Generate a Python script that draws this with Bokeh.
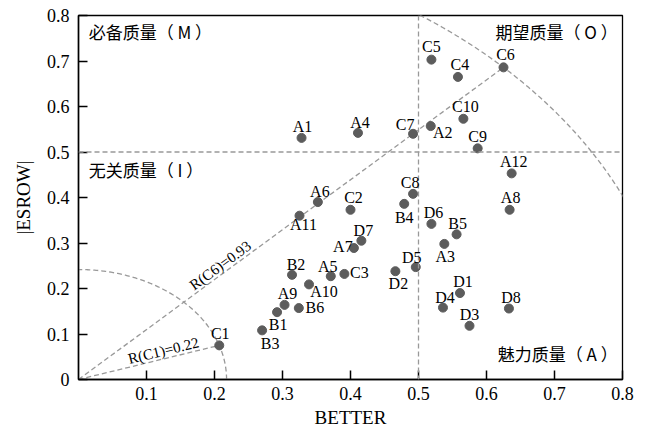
import math
import numpy as np
from bokeh.plotting import figure
from bokeh.models import (ColumnDataSource, LabelSet, Label, Span, Range1d,
                          FixedTicker, CustomJSTickFormatter)
from bokeh.core.properties import value
from bokeh.embed import file_html
from bokeh.resources import INLINE

# ---- data ----
labels = ["C1", "B3", "B1", "A9", "B6", "A10", "B2", "A5", "C3", "A7", "D7", "D2",
          "D5", "D6", "B5", "A3", "D1", "D4", "D3", "D8", "B4", "C8", "C2", "A6",
          "A11", "A1", "A4", "C7", "A2", "C10", "C9", "A12", "A8", "C5", "C4", "C6"]
better = [0.207, 0.270, 0.292, 0.303, 0.324, 0.339, 0.314, 0.371, 0.391, 0.405, 0.416, 0.466,
          0.496, 0.519, 0.556, 0.538, 0.561, 0.536, 0.575, 0.633, 0.479, 0.492, 0.400, 0.352,
          0.325, 0.328, 0.411, 0.492, 0.518, 0.566, 0.587, 0.637, 0.634, 0.519, 0.558, 0.625]
esrow = [0.075, 0.108, 0.148, 0.164, 0.157, 0.209, 0.230, 0.227, 0.232, 0.289, 0.305, 0.238,
         0.247, 0.342, 0.319, 0.298, 0.190, 0.158, 0.118, 0.156, 0.386, 0.408, 0.373, 0.390,
         0.360, 0.531, 0.542, 0.540, 0.557, 0.573, 0.508, 0.453, 0.373, 0.703, 0.665, 0.686]
x_ticks = [0.1, 0.2, 0.3, 0.4, 0.5, 0.6, 0.7, 0.8]
y_ticks = [0, 0.1, 0.2, 0.3, 0.4, 0.5, 0.6, 0.7, 0.8]
threshold = 0.5
radius_points = ["C6", "C1"]
radius_texts = ["R(C6)=0.93", "R(C1)=0.22"]
quadrants = ["必备质量（ M ）", "期望质量（ O ）", "无关质量（ I ）", "魅力质量（ A ）"]

# ---- label placement (screen px, page coords: +dy = down) ----
label_dx = [1, 8, 1, 3, 16, 15, 4, -3, 15, -11, 2, 3,
            -4, 2, 1, 1, 3, 2, 0, 2, 0, -3, 3, 2,
            4, 1, 2, -8, 12, 2, 0, 2, 1, 0, 2, 2]
label_dy = [-12, 13, 12, -11, -1, 7, -10, -10, -1, -2, -10, 12,
            -10, -11, -11, 13, -12, -10, -11, -11, 14, -11, -12, -11,
            9, -11, -10, -9, 6, -12, -12, -12, -12, -13, -12, -13]

W, H = 648, 434
ML, MR, MT, MB = 78, 26, 15, 55
FW, FH = W - ML - MR, H - MT - MB
sx, sy = FW / 0.8, FH / 0.8

GRAY = "#999999"
DOT = "#5c5c5c"
SERIF = "Liberation Serif"
CJK = "Noto Sans CJK SC"

p = figure(width=W, height=H, x_range=Range1d(0, 0.8), y_range=Range1d(0, 0.8),
           output_backend="svg", toolbar_location=None,
           min_border_left=ML, min_border_right=MR, min_border_top=MT, min_border_bottom=MB)
p.xgrid.visible = False
p.ygrid.visible = False
p.background_fill_color = "white"
p.border_fill_color = "white"
p.outline_line_color = "black"
p.outline_line_width = 1.3

# threshold lines
p.add_layout(Span(location=threshold, dimension="height", line_color=GRAY,
                  line_dash="5 3", line_width=1.3))
p.add_layout(Span(location=threshold, dimension="width", line_color=GRAY,
                  line_dash="5 3", line_width=1.3))

# rays and arcs (ellipse aspect used by the original drawing)
k = 1.11
theta = np.linspace(0, math.pi / 2, 200)
for name, txt, frac in zip(radius_points, radius_texts, [0.345, 0.617]):
    i = labels.index(name)
    px, py = better[i], esrow[i]
    p.line([0, px], [0, py], line_color=GRAY, line_dash="5 3", line_width=1.3)
    a = math.sqrt(px ** 2 + (py / k) ** 2)
    b = k * a
    p.line(a * np.cos(theta), b * np.sin(theta), line_color=GRAY, line_dash="5 3", line_width=1.3)
    ang = math.atan2(py * sy, px * sx)
    p.add_layout(Label(x=px * frac, y=py * frac, text=txt, angle=ang, angle_units="rad",
                       text_align="center", text_baseline="bottom",
                       text_font=SERIF, text_font_size="15px", text_color="black"))

src = ColumnDataSource(dict(x=better, y=esrow, label=labels,
                            dx=label_dx, dy=[-d for d in label_dy]))
p.scatter("x", "y", source=src, size=9, fill_color=DOT, line_color=DOT)
p.add_layout(LabelSet(x="x", y="y", text="label", x_offset="dx", y_offset="dy", source=src,
                      text_font=value(SERIF), text_font_size="16px", text_color="black",
                      text_align="center", text_baseline="middle"))

# quadrant labels
q_pos = [(0.015, 0.764, "left"), (0.793, 0.764, "right"),
         (0.015, 0.462, "left"), (0.793, 0.058, "right")]
for txt, (qx, qy, al) in zip(quadrants, q_pos):
    p.add_layout(Label(x=qx, y=qy, text=txt, text_align=al, text_baseline="middle",
                       text_font=CJK, text_font_size="17px", text_color="black"))

# axes
p.xaxis.ticker = FixedTicker(ticks=x_ticks)
p.yaxis.ticker = FixedTicker(ticks=y_ticks)
fmt = "return tick === 0 ? '0' : tick.toFixed(1);"
p.xaxis.formatter = CustomJSTickFormatter(code=fmt)
p.yaxis.formatter = CustomJSTickFormatter(code=fmt)
p.xaxis.axis_label = "BETTER"
p.yaxis.axis_label = "|ESROW|"
for ax in (p.xaxis, p.yaxis):
    ax.major_tick_in = 9
    ax.major_tick_out = 0
    ax.minor_tick_line_color = None
    ax.axis_line_width = 1.5
    ax.axis_line_color = "black"
    ax.major_tick_line_width = 1.5
    ax.major_tick_line_color = "black"
    ax.major_label_text_font = SERIF
    ax.major_label_text_font_size = "18px"
    ax.major_label_text_color = "black"
    ax.axis_label_text_font = SERIF
    ax.axis_label_text_font_size = "19px"
    ax.axis_label_text_font_style = "normal"
    ax.axis_label_text_color = "black"
p.xaxis.major_label_standoff = 7
p.xaxis.axis_label_standoff = 4
p.yaxis.major_label_standoff = 9
p.yaxis.axis_label_standoff = 10

open("out.html", "w").write(file_html(p, INLINE))
